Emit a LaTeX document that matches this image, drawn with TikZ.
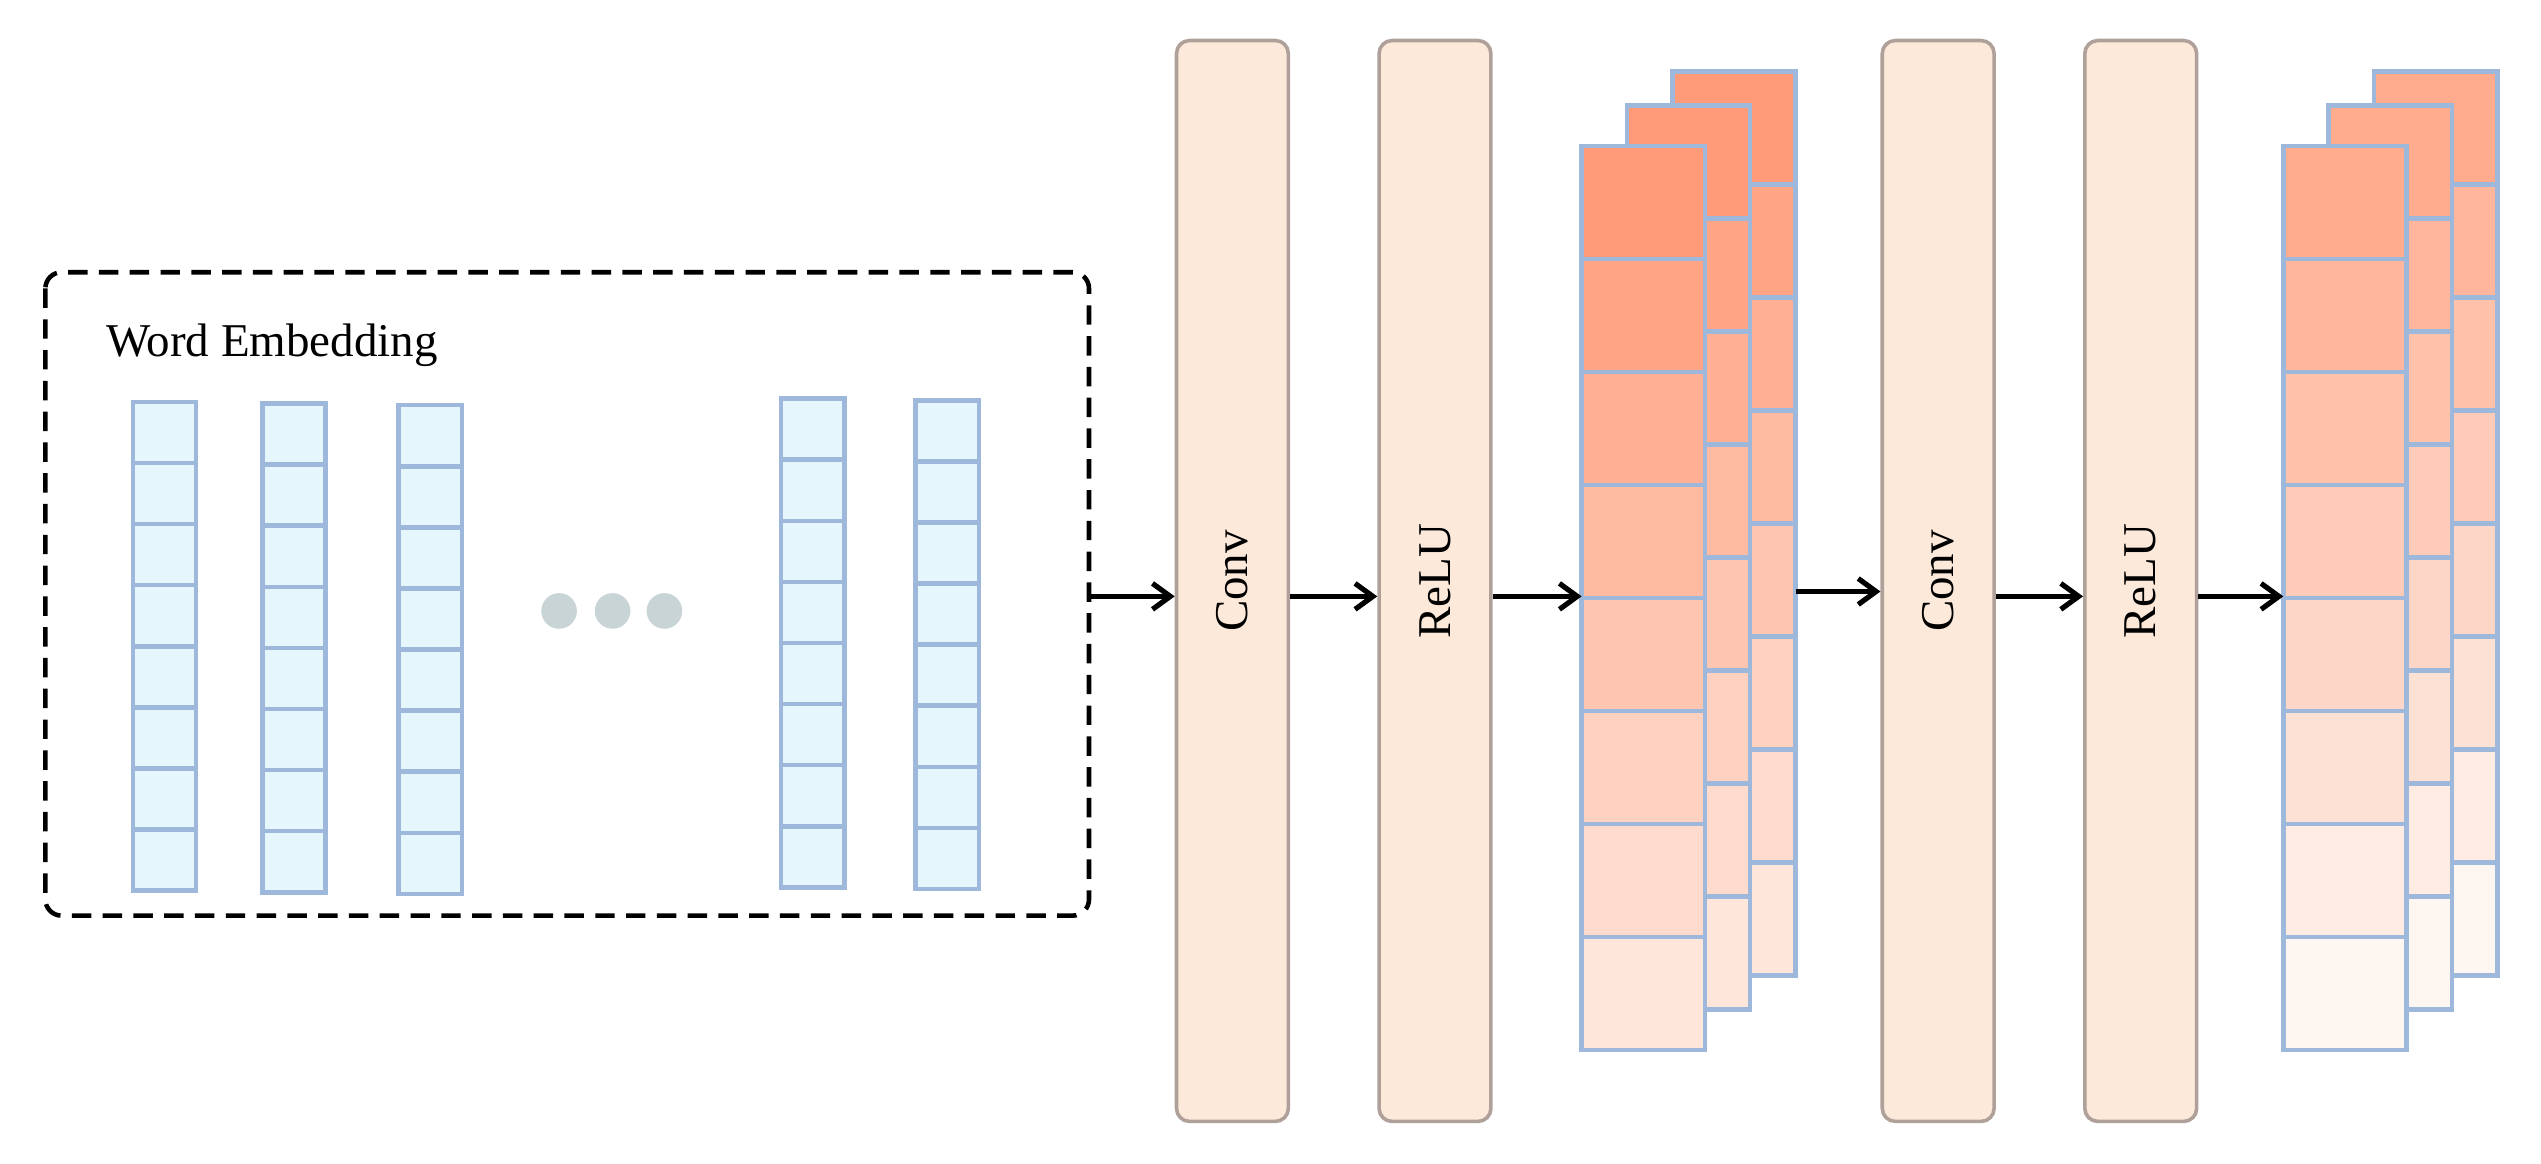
\documentclass[tikz,border=0pt]{standalone}
\usepackage{fontspec}
\setmainfont{Liberation Serif}
\usetikzlibrary{arrows.meta,positioning}
\definecolor{cellF}{HTML}{E5F7FC}
\definecolor{cellD}{HTML}{9DB8DA}
\definecolor{barF}{HTML}{FDE9DA}
\definecolor{barD}{HTML}{B0A09A}
\definecolor{dotC}{HTML}{C8D4D6}
\definecolor{orD}{HTML}{FF9A78}
\definecolor{orL}{HTML}{FEF8F3}
\tikzset{
 cell/.style={draw=cellD,fill=cellF,line width=2.8pt},
 bar/.style={draw=barD,fill=barF,line width=2.2pt,rounded corners=8pt,minimum width=69pt,minimum height=667pt,inner sep=0pt},
 fm/.style={draw=cellD,line width=2.8pt},
 arr/.style={-{Straight Barb[length=11pt,width=16pt]},line width=3.2pt},
 lbl/.style={font=\fontsize{29}{34}\selectfont,rotate=90}
}
% #1 left x, #2 top y, #3 start pct, #4 step pct
\newcommand\fmlayer[4]{%
 \foreach \i in {0,...,7}{%
   \pgfmathsetmacro\p{#3-\i*#4}%
   \fill[orD!\p!orL] (#1,#2+\i*69.75) rectangle ++(76,69.75);
   \draw[fm] (#1,#2+\i*69.75) rectangle ++(76,69.75);
 }}
\begin{document}
\begin{tikzpicture}[x=1pt,y=-1pt]
\useasboundingbox (0,0) rectangle (1568,718);
% embedding box
\draw[line width=2.8pt,dash pattern=on 12pt off 7pt,rounded corners=10pt] (28,168) rectangle (672,565);
\node[coordinate] (emb) at (672,368) {};
\node[anchor=west,font=\fontsize{29}{34}\selectfont] (wt) at (62,213) {Word Embedding};
\foreach \x/\t in {82/248,162/249,246/250,482/246,565/247}{
  \foreach \i in {0,...,7}{
    \draw[cell] (\x,\t+\i*37.7) rectangle ++(39,37.7);
  }
}
\foreach \x [count=\k] in {345,378,410}{\fill[dotC] (\x,377) circle (11) node (dot\k) {};}
% bars
\node[bar] (c1) at (760.5,358.5) {};
\node[lbl] at (c1) {Conv};
\node[bar] (r1) at (885.5,358.5) {};
\node[lbl] at (r1) {ReLU};
\node[bar] (c2) at (1196,358.5) {};
\node[lbl] at (c2) {Conv};
\node[bar] (r2) at (1321,358.5) {};
\node[lbl] at (r2) {ReLU};
% stack 1
\fmlayer{1032}{44}{100}{11.5}
\fmlayer{1004}{65}{100}{11.5}
\fmlayer{976}{90}{100}{11.5}
\node[coordinate] (s1in) at (976,368) {};
\node[coordinate] (s1out) at (1108,365) {};
% stack 2
\fmlayer{1465}{44}{82}{11.5}
\fmlayer{1437}{65}{82}{11.5}
\fmlayer{1409}{90}{82}{11.5}
\node[coordinate] (s2in) at (1409,368) {};
% arrows
\draw[arr] (emb) -- (c1.west |- emb);
\draw[arr] (c1.east |- emb) -- (r1.west |- emb);
\draw[arr] (r1.east |- emb) -- (s1in);
\draw[arr] (s1out) -- (c2.west |- s1out);
\draw[arr] (c2.east |- emb) -- (r2.west |- emb);
\draw[arr] (r2.east |- emb) -- (s2in);
\end{tikzpicture}
\end{document}
